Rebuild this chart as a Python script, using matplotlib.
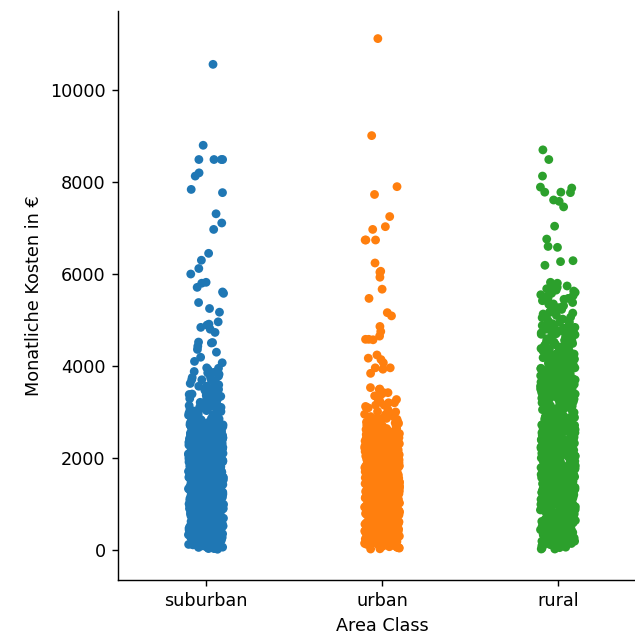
import numpy as np
import pandas as pd
import matplotlib
matplotlib.use("Agg")
import matplotlib.pyplot as plt
import seaborn as sns

categories = ["suburban", "urban", "rural"]
colors = ["#1f77b4", "#ff7f0e", "#2ca02c"]

# ---- suburban ----
suburban_sparse = [10560, 8800, 8490, 8490, 8490, 8490, 8200, 8130, 7770, 7840, 7310, 7110, 6970,
                   6450, 6300, 6120, 6000, 5800, 5820, 5710, 5610, 5580, 5380, 5250, 5170, 4910,
                   4840, 4960, 4890, 4800, 4730, 4520, 4510, 4430, 4500, 4360, 4300, 4190, 4070,
                   4100, 3860, 3780, 3820, 3960, 3850, 3560, 3490, 3640, 3560, 3420, 3340, 3920,
                   3700, 3750, 3650, 3300, 3250, 3200, 3380, 3150, 3700, 3480]
suburban_upper = [2920, 3010, 3080, 2960, 3120, 3050, 2990, 3180, 3230, 3100, 3290, 3360, 3420,
                  3510, 3590, 3680, 3740, 3810, 3880, 3950, 3030, 3140, 3270, 3330, 3450, 3620,
                  2940, 3070, 3160, 3000, 3210, 3390, 2980, 3110]
suburban_dense = [
    45, 120, 310, 880, 1450, 2010, 640, 1230, 2760, 390, 1580, 960, 2240, 70, 1710, 530, 1320, 2480, 820, 1890,
    260, 1050, 2130, 690, 1640, 2890, 150, 1180, 2370, 470, 1920, 760, 1390, 2580, 330, 1010, 2050, 580, 1510, 2940,
    90, 1270, 1830, 720, 2310, 410, 1560, 1090, 2660, 230, 1740, 850, 2190, 560, 1360, 2830, 180, 940, 1610, 2420,
    610, 1470, 2080, 30, 1150, 1980, 790, 2530, 350, 1700, 1020, 2270, 500, 1290, 2710, 270, 1850, 670, 1430, 2100,
    110, 990, 1670, 2360, 450, 1210, 2860, 740, 1540, 2000, 380, 1120, 2620, 600, 1800, 920, 2170, 210, 1340, 3020,
    820, 1590, 2230, 60, 1410, 2450, 540, 1060, 1940, 300, 1760, 2690, 700, 1250, 2040, 160, 980, 1660, 2330, 430,
    1380, 2150, 620, 1830, 2910, 250, 1130, 1950, 780, 2500, 370, 1490, 2070, 910, 1700, 2600, 130, 1200, 2280, 520,
    1620, 870, 2400, 340, 1040, 1880, 2740, 680, 1520, 2120, 200, 1310, 2560, 450, 1770, 1000, 2200, 590, 1440, 2980,
    15, 1160, 1990, 750, 2340, 480, 1600, 930, 2650, 280, 1370, 2060, 640, 1850, 1080, 2460, 400, 1570, 2820, 170,
    1260, 1910, 830, 2210, 560, 1480, 2720, 320, 1690, 1030, 2320, 710, 1420, 2030, 100, 1170, 2590, 490, 1790, 950,
    2140, 620, 1350, 2880, 240, 1550, 1070, 2410, 800, 1630, 2250, 380, 1220, 1960, 660, 2790, 140, 1470, 2090, 900,
    1730, 2520, 440, 1100, 2180, 770, 1510, 3060, 290, 1280, 1860, 570, 2380, 1000, 1650, 2680, 210, 1400, 2160, 850,
    1190, 2000, 510, 1740, 2930, 360, 1300, 2290, 730, 1580, 2490, 80, 1040, 1810, 620, 2620, 420, 1460, 2110, 960,
    1820, 700, 2390, 1140, 2020, 480, 1600, 2850, 230, 1330, 2210, 890, 1680, 2540, 310, 1090, 1900, 600, 2430, 1500,
    55, 1240, 2070, 810, 1720, 2730, 470, 1420, 2260, 1010, 1530, 2950, 350, 1160, 1970, 740, 2560, 190, 1370, 3080,
    2100, 930, 1640, 2310, 530, 1250, 2770, 680, 1560, 2020, 270, 1110, 1870, 840, 2470, 1330, 2160, 390, 1700, 2640,
]
suburban_dense_b = [
    510, 1930, 1170, 2610, 40, 1480, 870, 2290, 330, 1760, 1020, 2450, 690, 1390, 2110, 150, 1820, 760, 2540, 1230,
    2060, 280, 1640, 930, 2380, 470, 1280, 2720, 610, 1550, 1080, 2200, 380, 1900, 820, 1350, 2490, 120, 1710, 990,
    1440, 2150, 560, 1810, 240, 1090, 2330, 740, 1620, 2570, 430, 1260, 1950, 880, 2010, 60, 1500, 2420, 660, 1140,
    2270, 900, 1580, 350, 2080, 1210, 2680, 590, 1740, 1040, 2360, 210, 1410, 1990, 800, 2620, 460, 1170, 1860, 1320,
    710, 2430, 1060, 1690, 180, 1920, 1370, 2790, 520, 1530, 2140, 970, 300, 1780, 2260, 640, 1120, 2500, 1460, 80,
    1870, 1000, 2310, 420, 1600, 2050, 780, 1300, 2700, 260, 1660, 1130, 2400, 570, 1990, 860, 1430, 2170, 140, 1250,
    2590, 680, 1510, 1950, 360, 1190, 2280, 940, 1720, 500, 2460, 1350, 1040, 2120, 220, 1620, 2350, 730, 1830, 1090,
    410, 1400, 2200, 850, 1770, 2650, 110, 1220, 2040, 620, 1560, 2380, 990, 1880, 310, 1310, 2510, 780, 1680, 2090,
    1150, 2320, 490, 1740, 920, 2560, 1360, 170, 2000, 1080, 1640, 2240, 580, 1470, 2770, 820, 1930, 370, 1210, 2410,
    1820, 640, 2130, 1270, 2480, 30, 1550, 960, 2290, 450, 1700, 1110, 2600, 710, 1460, 2060, 250, 1900, 1340, 2180,
    860, 2040, 1180, 2390, 320, 1610, 2730, 590, 1420, 1960, 1050, 2250, 130, 1790, 680, 2520, 1300, 890, 2140, 1580,
    2350, 400, 1890, 1030, 2160, 750, 1520, 2810, 270, 1240, 1940, 620, 2440, 1390, 1010, 2070, 480, 1730, 2300, 1160,
    560, 1650, 2230, 950, 1450, 2640, 190, 1110, 1850, 730, 2370, 1280, 1970, 420, 1600, 2190, 840, 1380, 2550, 1070,
    1760, 2460, 330, 1190, 2020, 610, 1540, 2300, 1000, 1840, 90, 1430, 2660, 770, 1250, 1910, 540, 2110, 1630, 2400,
    1020, 2180, 700, 1570, 2420, 230, 1330, 1980, 880, 2580, 1480, 450, 1790, 2250, 1140, 650, 2030, 1410, 2740, 350,
    1950, 1200, 2510, 580, 1690, 2090, 940, 1360, 2330, 170, 1560, 1070, 2200, 810, 1880, 2610, 490, 1290, 1730, 2050,
    790, 1450, 2280, 1130, 2690, 380, 1800, 1010, 2140, 620, 1600, 2470, 280, 1260, 1920, 900, 2360, 1500, 720, 2000,
    1370, 2570, 520, 1710, 1160, 2230, 840, 1940, 2410, 300, 1480, 1060, 2120, 670, 1820, 2530, 1230, 430, 1650, 2270,
    2150, 970, 1540, 2380, 200, 1310, 1870, 760, 2630, 1090, 1590, 2060, 560, 1400, 2490, 1180, 830, 1990, 340, 1740,
    1280, 2010, 650, 2560, 1420, 1000, 2190, 470, 1760, 2340, 1150, 870, 1630, 2440, 260, 1900, 1350, 2080, 590, 1520,
    2230, 730, 1840, 1100, 2500, 410, 1610, 2150, 960, 1290, 2680, 520, 1780, 2020, 1210, 680, 2310, 1470, 180, 1970,
    1060, 2420, 1680, 370, 1950, 1330, 2240, 800, 1560, 2860, 620, 1390, 2100, 940, 1810, 2590, 1120, 460, 1690, 2170,
]

# ---- urban ----
urban_sparse = [11120, 9010, 7900, 7730, 7250, 6970, 7030, 6740, 6740, 6740, 6240, 6060, 6040, 5930,
                5670, 5470, 5160, 5090, 4860, 4750, 4580, 4580, 4570, 4650, 4170, 4240, 4140, 4070,
                3960, 3930, 3840, 3960, 3500, 3420, 3490, 3270, 3270, 3050, 2840, 3530, 3420, 3380,
                3150, 3100, 3000, 2950, 2900, 2880, 3200, 3120]
urban_dense = [
    25, 640, 1320, 2010, 410, 1150, 1870, 760, 2290, 180, 1480, 950, 2150, 560, 1710, 320, 1260, 2420, 830, 1590,
    110, 1030, 1790, 470, 2070, 1390, 690, 2520, 250, 1190, 1940, 870, 1620, 2330, 530, 1080, 2200, 380, 1450, 780,
    1680, 60, 1240, 2110, 600, 1530, 920, 2390, 300, 1360, 1820, 720, 2600, 150, 1100, 1960, 490, 1570, 2240, 850,
    1410, 230, 1010, 2050, 670, 1750, 1200, 2460, 420, 1300, 1890, 590, 2160, 990, 1640, 80, 1500, 2310, 740, 1120,
    1930, 350, 1560, 890, 2260, 510, 1340, 2680, 200, 1060, 1780, 640, 2030, 1420, 810, 2470, 440, 1210, 1990, 960,
    1610, 130, 1290, 2180, 700, 1840, 1040, 2550, 360, 1470, 2090, 570, 1730, 900, 2350, 270, 1160, 1900, 620, 1380,
    2280, 40, 1090, 1700, 480, 2000, 1250, 800, 2410, 310, 1520, 1060, 2140, 660, 1800, 190, 1330, 2570, 880, 1600,
    1180, 2060, 430, 1460, 940, 2220, 580, 1650, 1020, 2490, 240, 1400, 1860, 720, 2120, 1270, 90, 1550, 2370, 820,
    1960, 520, 1140, 2650, 380, 1690, 970, 2250, 170, 1310, 1830, 650, 2040, 1080, 1580, 2730, 450, 1220, 1910, 760,
    1370, 2170, 290, 1020, 1770, 600, 2430, 1180, 860, 1990, 140, 1490, 2300, 710, 1630, 1000, 2500, 410, 1280, 1850,
    2080, 550, 1430, 930, 2340, 210, 1150, 1720, 690, 2620, 1350, 340, 1880, 1050, 2190, 500, 1600, 2780, 840, 1230,
    70, 1510, 2270, 790, 1660, 1110, 2450, 460, 1390, 2010, 630, 1920, 260, 1190, 2580, 980, 1740, 370, 1440, 2130,
    1070, 1810, 540, 2380, 1260, 160, 1550, 910, 2230, 680, 1700, 2860, 320, 1130, 1980, 770, 2510, 1460, 590, 2060,
    1340, 850, 2150, 220, 1620, 1010, 2400, 480, 1900, 1200, 2940, 730, 1570, 2100, 390, 1090, 2320, 870, 1760, 50,
    2700, 2820, 2650, 3010, 2750, 2900, 2560, 3150, 2690, 2980, 2620, 3240, 2780, 3090, 2640, 3350, 2850, 2720, 3200, 2600,
]
urban_dense_b = [
    480, 1820, 1090, 2370, 150, 1530, 870, 2140, 620, 1300, 1970, 400, 1700, 1140, 2450, 760, 1420, 2020, 230, 1610,
    1960, 320, 1480, 940, 2230, 560, 1260, 2540, 110, 1670, 1050, 2100, 690, 1380, 1880, 450, 2310, 1190, 830, 1560,
    1350, 2080, 610, 1790, 290, 1120, 2400, 860, 1600, 2000, 170, 1440, 990, 2260, 520, 1720, 1250, 2480, 730, 1910,
    2170, 820, 1500, 370, 1860, 1240, 2330, 640, 1660, 1000, 2050, 260, 1390, 2590, 900, 1780, 540, 1170, 2120, 1450,
    700, 2290, 1030, 1640, 210, 1950, 1330, 2470, 580, 1510, 2180, 950, 440, 1750, 1200, 2390, 790, 1590, 60, 2000,
    1840, 980, 2210, 420, 1570, 2060, 750, 1270, 2520, 330, 1690, 1100, 2360, 600, 1930, 880, 1460, 2250, 180, 1160,
    2440, 660, 1530, 1920, 390, 1210, 2150, 930, 1740, 500, 2280, 1320, 1060, 2030, 240, 1630, 2410, 710, 1860, 1130,
    430, 1410, 2190, 840, 1730, 2570, 120, 1180, 2040, 650, 1540, 2340, 1010, 1850, 300, 1290, 2490, 770, 1650, 2090,
    1140, 2320, 510, 1710, 910, 2460, 1370, 200, 1990, 1070, 1620, 2220, 570, 1490, 2610, 810, 1900, 360, 1220, 2380,
    1790, 630, 2110, 1250, 2430, 20, 1540, 960, 2270, 460, 1680, 1120, 2550, 720, 1470, 2070, 270, 1880, 1310, 2160,
    870, 2030, 1170, 2350, 340, 1600, 2640, 590, 1430, 1950, 1040, 2240, 140, 1770, 690, 2500, 1300, 900, 2130, 1580,
    2310, 410, 1870, 1020, 2150, 740, 1510, 2690, 280, 1230, 1930, 630, 2420, 1380, 1000, 2070, 490, 1720, 2290, 1150,
    550, 1640, 2200, 960, 1440, 2560, 190, 1100, 1840, 740, 2360, 1270, 1960, 430, 1590, 2180, 850, 1370, 2530, 1070,
    1750, 2450, 330, 1190, 2010, 610, 1530, 2280, 1000, 1830, 100, 1420, 2620, 770, 1240, 1900, 540, 2100, 1620, 2390,
    1020, 2170, 700, 1560, 2400, 230, 1320, 1970, 880, 2540, 1470, 450, 1780, 2240, 1130, 650, 2020, 1400, 2710, 350,
    1940, 1200, 2480, 580, 1680, 2080, 940, 1360, 2320, 170, 1550, 1070, 2190, 810, 1870, 2600, 490, 1280, 1720, 2040,
    790, 1440, 2260, 1130, 2660, 380, 1790, 1010, 2130, 620, 1590, 2460, 280, 1250, 1910, 900, 2350, 1490, 720, 1990,
    1360, 2530, 520, 1700, 1160, 2220, 840, 1930, 2400, 300, 1470, 1060, 2110, 670, 1810, 2510, 1220, 430, 1640, 2260,
    2140, 970, 1530, 2370, 200, 1300, 1860, 760, 2580, 1090, 1580, 2050, 560, 1390, 2470, 1180, 830, 1980, 340, 1730,
    1270, 2000, 650, 2520, 1410, 1000, 2180, 470, 1750, 2330, 1150, 870, 1620, 2430, 260, 1890, 1340, 2070, 590, 1510,
    2220, 730, 1830, 1100, 2760, 410, 1600, 2140, 960, 1280, 2640, 520, 1770, 2010, 1210, 680, 2300, 1460, 180, 1960,
]

# ---- rural ----
rural_sparse = [8700, 8490, 8130, 7870, 7890, 7770, 7780, 7780, 7610, 7580, 7460, 7040, 6760, 6600,
                6580, 6270, 6290, 6190, 5820, 5800, 5740, 5700, 5650, 5600, 5550, 5500, 5480, 5450,
                5400, 5350, 5310, 5250, 5200, 5150, 5100, 5050, 4980, 5380, 5520, 5270]
rural_upper = [4720, 4810, 4880, 4950, 5020, 5080, 5130, 5190, 5230, 5290, 5340, 5420, 5470, 5530,
               5580, 5630, 5680, 5710, 4760, 4840, 4910, 5060, 5160, 4990]
rural_dense = [
    35, 720, 1460, 2180, 390, 1120, 2830, 600, 1700, 2410, 210, 1030, 1890, 520, 2620, 1300, 870, 2050, 140, 1570,
    2300, 480, 1240, 1960, 830, 2710, 300, 1420, 1090, 2460, 660, 1810, 100, 1350, 2140, 940, 2880, 410, 1610, 2000,
    1180, 2550, 570, 1750, 260, 1480, 2240, 760, 2960, 1020, 1650, 450, 2390, 1270, 190, 1930, 880, 2690, 640, 1520,
    2110, 60, 1390, 2770, 930, 1710, 340, 2480, 1150, 2030, 590, 1840, 2600, 800, 1290, 2200, 430, 1080, 2920, 1630,
    160, 1560, 2340, 700, 1980, 1010, 2790, 380, 1370, 2150, 820, 1760, 2510, 250, 1200, 2060, 960, 2650, 540, 1440,
    2250, 1100, 620, 1870, 2980, 90, 1330, 2420, 850, 1590, 2100, 470, 2740, 1220, 1790, 320, 2310, 1050, 1670, 2570,
    740, 1950, 230, 1400, 2860, 990, 2190, 560, 1720, 2450, 1140, 400, 2080, 1510, 2700, 680, 1260, 2360, 130, 1820,
    2520, 910, 1610, 290, 2010, 1360, 2820, 610, 1900, 1070, 2280, 440, 1540, 2630, 780, 1170, 2160, 20, 1470, 2900,
    1030, 2400, 510, 1680, 2090, 860, 2760, 1310, 350, 1850, 2550, 1190, 700, 2230, 1580, 180, 2040, 970, 2670, 1420,
    2330, 600, 1750, 2950, 1120, 270, 1990, 1460, 2580, 820, 1640, 2120, 490, 1240, 2850, 1010, 1920, 360, 2470, 1530,
    720, 2000, 1380, 2740, 110, 1700, 2260, 940, 1490, 2610, 550, 1830, 1160, 2390, 310, 2070, 1290, 2800, 650, 1960,
    1600, 2180, 420, 1230, 2530, 890, 1780, 2970, 200, 1410, 2290, 760, 1060, 2680, 1890, 580, 2140, 1330, 50, 2440,
    1860, 990, 2620, 460, 1520, 2230, 1100, 2880, 370, 1740, 2060, 830, 1280, 2500, 670, 1630, 2340, 240, 1940, 2770,
    3020, 3560, 4120, 3280, 3890, 4450, 3150, 3710, 4300, 3430, 4010, 4620, 3090, 3620, 4200, 3350, 3940, 4520, 3200, 3800,
    4380, 3060, 3670, 4250, 3480, 4060, 4680, 3130, 3750, 4330, 3520, 4150, 3240, 3850, 4470, 3000, 3600, 4210, 3400, 3980,
    4560, 3170, 3760, 4350, 3310, 3920, 4110, 3690, 3050, 4640, 3470, 4030, 3580, 4400, 3110, 3820, 4260, 3380, 3990, 4500,
    3260, 3870, 4170, 3540, 4590, 3100, 3730, 4320, 3450, 4080, 3640, 4700, 3190, 3960, 4420, 3330, 3780, 4230, 3500, 4060,
    3910, 3220, 4490, 3660, 4140, 3030, 3840, 4360, 3410, 4660, 3590, 4000, 3290, 4270, 3700, 4550, 3140, 3950, 4410, 3370,
    4730, 4780, 4820, 4870, 4920, 4760, 4850, 4950, 4800, 4900, 4690, 4580, 4470, 4610, 4740,
]
rural_dense_b = [
    480, 1820, 3090, 1090, 2370, 3810, 150, 1530, 4220, 870, 2140, 3360, 620, 1300, 2950, 400, 1700, 3990, 1140, 2450,
    3600, 320, 1480, 2700, 940, 4400, 2230, 560, 1260, 3240, 110, 1670, 4010, 1050, 2100, 3480, 690, 1380, 2880, 1880,
    4150, 1350, 2080, 610, 3700, 1790, 290, 2560, 1120, 3930, 860, 1600, 3150, 2000, 170, 4480, 1440, 2790, 990, 3550,
    2170, 820, 3320, 1500, 370, 4060, 1860, 2650, 1240, 3770, 640, 1660, 2930, 1000, 4290, 260, 2050, 3450, 1390, 2590,
    700, 3880, 1030, 2290, 1640, 4530, 210, 3020, 1950, 1330, 3640, 580, 2470, 1510, 4120, 950, 2180, 3270, 440, 1750,
    2840, 1840, 980, 3710, 420, 2210, 1570, 4340, 750, 2060, 3170, 1270, 330, 2520, 3960, 1690, 1100, 2360, 600, 3400,
    4620, 1930, 880, 2990, 1460, 3590, 180, 2250, 1160, 4080, 660, 1530, 2740, 1920, 3330, 390, 1210, 4250, 930, 2150,
    1740, 3840, 500, 2280, 1320, 3090, 1060, 4420, 2030, 240, 1630, 3520, 2410, 710, 1860, 3200, 1130, 4000, 430, 2570,
    1410, 2190, 3680, 840, 1730, 4170, 120, 2610, 1180, 3390, 2040, 650, 1540, 4560, 2340, 1010, 3050, 1850, 300, 2840,
    3740, 1290, 2490, 770, 4310, 1650, 2090, 3280, 1140, 510, 2320, 3910, 1710, 910, 2960, 1990, 3570, 360, 1220, 4090,
    2380, 1790, 630, 3460, 2110, 1250, 4380, 20, 1540, 2870, 960, 3790, 2270, 460, 1680, 3150, 1120, 2590, 4200, 1880,
    870, 3020, 2030, 1170, 4470, 340, 2350, 1600, 3650, 590, 2640, 1430, 3300, 1040, 2140, 4040, 140, 1770, 2720, 1280,
    3860, 2310, 410, 1870, 3110, 1020, 2150, 4520, 740, 1510, 2690, 3440, 280, 1230, 1930, 3780, 630, 2420, 1000, 3230,
    1550, 2200, 3560, 550, 1640, 2560, 4140, 960, 1440, 3010, 190, 2360, 1100, 3890, 1840, 740, 2530, 4330, 1370, 2070,
    1750, 3350, 330, 2450, 1190, 4010, 610, 2010, 3670, 1530, 2280, 1000, 3140, 1830, 100, 2620, 3980, 770, 1240, 2900,
    1020, 4240, 2170, 700, 3490, 1560, 2400, 230, 3820, 1320, 1970, 880, 2540, 4460, 1470, 450, 3060, 1780, 2240, 1130,
    3580, 1940, 650, 2680, 1200, 3250, 2480, 580, 4180, 1680, 940, 2080, 3720, 1360, 2320, 170, 1550, 3030, 1070, 4390,
    790, 2600, 1440, 3940, 2260, 1130, 380, 3380, 1790, 2710, 1010, 4060, 620, 2130, 1590, 3510, 280, 1250, 2500, 3660,
    2300, 520, 1700, 3170, 1160, 2210, 4270, 840, 1930, 2770, 1360, 3830, 300, 2040, 1470, 3420, 720, 2660, 1170, 4590,
    1360, 3060, 970, 2180, 4100, 1530, 380, 2430, 3610, 1240, 2000, 820, 3300, 1870, 2860, 560, 1450, 3940, 2210, 1090,
]

values = {
    "suburban": suburban_dense + suburban_dense_b + suburban_upper + suburban_sparse,
    "urban": urban_dense + urban_dense_b + urban_sparse,
    "rural": rural_dense + rural_dense_b + rural_upper + rural_sparse,
}

rows = []
for cat in categories:
    for v in values[cat]:
        rows.append((cat, v))
df = pd.DataFrame(rows, columns=["Area Class", "Monatliche Kosten in €"])

np.random.seed(3)
fig = plt.figure(figsize=(5.0, 637 / 127), dpi=127)
ax = fig.add_axes([118 / 635, (637 - 580) / 637, 528 / 635, (580 - 11) / 637])

sns.stripplot(data=df, x="Area Class", y="Monatliche Kosten in €", hue="Area Class",
              order=categories, hue_order=categories, palette=colors, legend=False,
              jitter=True, size=5, linewidth=0, ax=ax)

ax.set_xlim(-0.5, 2.5)
ax.set_ylim(-654, 11720)
ax.set_yticks([0, 2000, 4000, 6000, 8000, 10000])
for side in ("top", "right"):
    ax.spines[side].set_visible(False)
ax.tick_params(labelsize=10)
ax.set_xlabel("Area Class", fontsize=10)
ax.set_ylabel("Monatliche Kosten in €", fontsize=10)

fig.savefig("out.png", dpi=127)
